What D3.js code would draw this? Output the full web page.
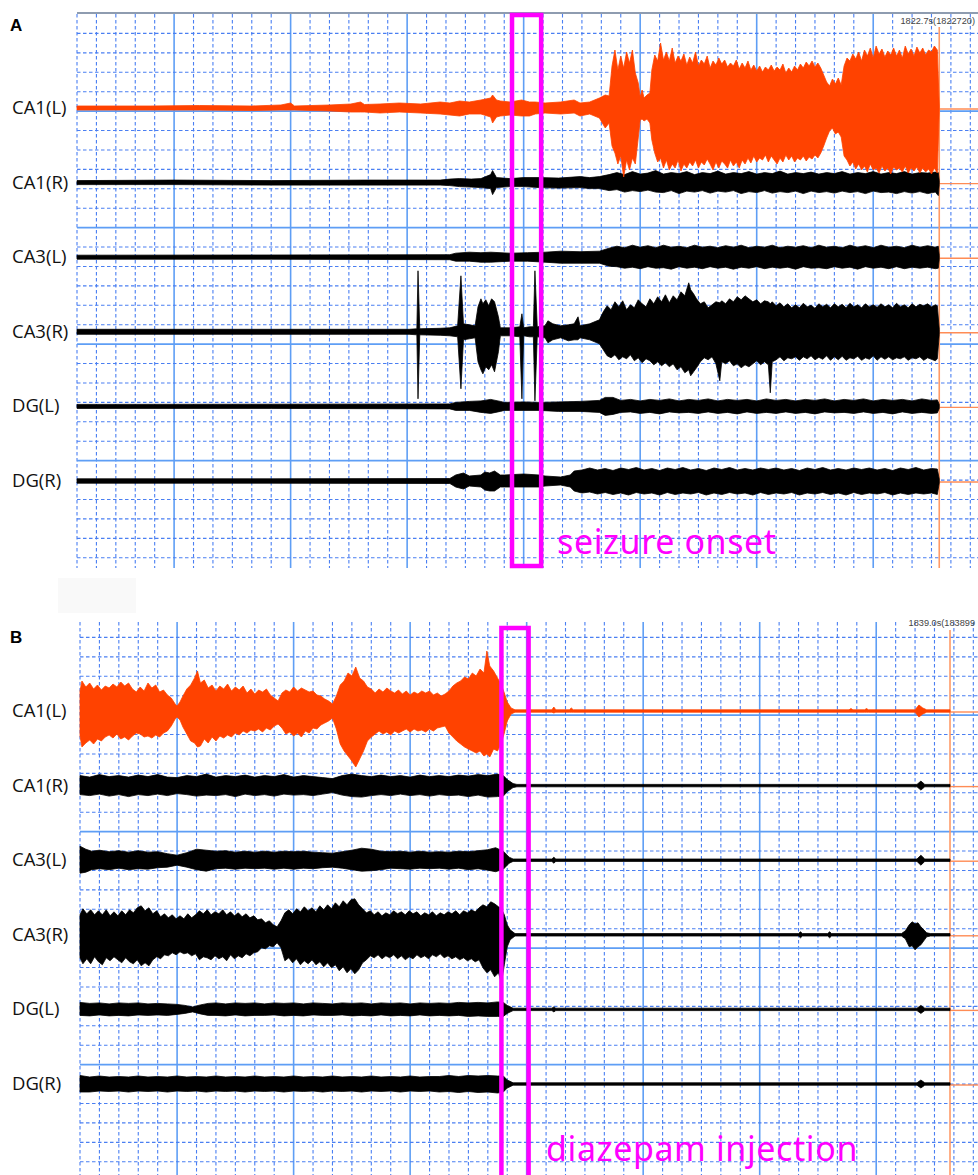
<!DOCTYPE html>
<html><head><meta charset="utf-8">
<script src="https://cdn.jsdelivr.net/npm/d3@7"></script>
<style>body{margin:0;background:#fff}svg{display:block}</style>
</head><body>
<svg id="chart" width="978" height="1175"></svg>
<script>
// ---------- data ----------
const channels = ["CA1(L)", "CA1(R)", "CA3(L)", "CA3(R)", "DG(L)", "DG(R)"];
const panelLabels = ["A", "B"];
const timeLabels = ["1822.7s(1822720)", "1839.0s(183899"];
const eventLabels = ["seizure onset", "diazepam injection"];
// event windows (s from panel start) and trace end times
const eventA = [22.4, 23.9];
const eventB = [21.7, 23.1];
const endA = 44.4, endB = 44.8;

// envelopes: [time s, upward deflection µV, downward deflection µV]
const A_CA1L = [[0,20,20],[3.8,20,20],[6.3,25,20],[9,20,25],[10.5,30,20],[11,50,20],[11.2,20,20],[13,30,30],[14.1,40,40],[14.6,60,40],[14.8,35,40],[15.6,40,50],[16.6,50,40],[17.7,40,50],[18.7,60,60],[19.2,50,70],[19.7,70,80],[20.2,60,60],[20.8,80,60],[21.3,100,90],[21.4,130,150],[21.6,80,90],[21.8,70,80],[22.3,60,70],[22.9,80,80],[23.3,60,80],[23.6,60,60],[24.1,50,50],[24.9,60,60],[25.6,80,50],[25.9,50,80],[26.4,60,60],[26.9,100,100],[27.2,130,200],[27.4,120,150],
 [27.55,420,380],[27.7,580,450],[27.85,380,560],[28.0,520,480],[28.15,400,690],[28.3,560,520],[28.45,450,620],[28.6,580,500],[28.75,350,560],[28.9,250,300],[29.0,110,120],[29.1,180,110],[29.2,100,130],[29.35,130,110],[29.5,150,150],[29.6,380,320],[29.75,530,450],[29.9,470,540],[30.05,650,500],[30.2,480,600],[30.35,560,520],[30.5,470,620],[30.65,600,560],[30.8,450,600],[30.95,520,520],[31.1,470,630],[31.25,540,560],[31.4,430,600],[31.55,510,540],[31.7,450,580],[31.85,560,520],[32.0,420,600],[32.15,480,540],[32.3,440,570],[32.45,520,510],[32.6,400,560],[32.75,470,620],[32.9,430,540],[33.05,500,600],[33.2,440,530],[33.35,480,560],[33.5,410,600],[33.65,450,520],[33.8,420,580],[33.95,480,540],[34.1,390,600],[34.25,450,520],[34.4,400,560],[34.55,470,500],[34.7,380,550],[34.85,430,480],[35.0,370,540],[35.15,420,500],[35.3,360,520],[35.45,410,470],[35.6,380,540],[35.75,430,480],[35.9,370,520],[36.05,410,560],[36.2,380,500],[36.35,440,540],[36.5,350,470],[36.65,400,520],[36.8,360,480],[36.95,420,540],[37.1,380,500],[37.25,440,520],[37.4,400,480],[37.55,460,530],[37.7,420,490],[37.85,470,510],[38.0,410,470],[38.15,450,500],[38.3,400,450],[38.45,330,380],[38.6,260,300],[38.75,220,230],[38.9,290,200],[39.05,240,260],[39.2,300,240],[39.35,230,290],[39.5,420,480],[39.65,500,520],[39.8,470,580],[39.95,540,540],[40.1,490,610],[40.25,560,560],[40.4,470,620],[40.55,580,580],[40.7,520,640],[40.85,600,560],[41.0,500,620],[41.15,620,600],[41.3,540,650],[41.45,590,580],[41.6,510,630],[41.75,570,600],[41.9,530,660],[42.05,600,590],[42.2,520,620],[42.35,580,600],[42.5,500,640],[42.65,620,580],[42.8,540,650],[42.95,590,600],[43.1,520,630],[43.25,610,590],[43.4,550,650],[43.55,600,600],[43.7,530,640],[43.85,580,610],[44.0,560,660],[44.15,620,600],[44.3,580,650],[44.4,20,20]];
const A_CA1R = [[0,20,20],[5,25,20],[10,20,25],[15,25,25],[18.7,25,25],[19.2,35,30],[19.7,40,40],[20.3,35,45],[20.8,40,50],[21.3,80,60],[21.4,120,120],[21.6,50,50],[22.3,40,40],[23.0,50,40],[23.8,50,50],[24.8,45,55],[25.9,60,50],[26.4,50,60],[26.9,60,60],[27.4,80,80],[27.8,100,70],[28.2,80,95],[28.6,110,80],[29.0,85,90],[29.4,95,75],[29.8,120,95],[30.2,85,100],[30.6,100,80],[31.0,90,110],[31.4,110,85],[31.8,80,95],[32.2,100,80],[32.6,90,105],[33.0,115,85],[33.4,85,95],[33.8,100,80],[34.2,90,110],[34.6,110,90],[35.0,85,100],[35.4,100,80],[35.8,90,105],[36.2,115,90],[36.6,85,100],[37.0,100,85],[37.4,90,110],[37.8,105,85],[38.2,85,100],[38.6,100,90],[39.0,90,105],[39.4,110,85],[39.8,85,100],[40.2,100,90],[40.6,90,110],[41.0,110,85],[41.4,85,100],[41.8,100,95],[42.2,90,110],[42.6,110,90],[43.0,85,105],[43.4,100,90],[43.8,95,110],[44.2,105,95],[44.35,100,130],[44.4,20,20]];
const A_CA3L = [[0,20,20],[10,22,20],[19.2,25,25],[19.5,40,40],[20.2,50,40],[20.8,45,50],[21.3,50,50],[22.3,40,40],[23.2,45,40],[24.1,50,50],[24.9,60,60],[25.9,55,60],[26.9,60,60],[27.4,90,90],[27.8,110,95],[28.2,95,110],[28.6,120,100],[29.0,100,115],[29.4,115,95],[29.8,95,110],[30.2,120,105],[30.6,100,120],[31.0,110,95],[31.4,95,110],[31.8,120,100],[32.2,100,115],[32.6,110,95],[33.0,95,110],[33.4,115,100],[33.8,100,120],[34.2,120,100],[34.6,95,110],[35.0,110,95],[35.4,100,115],[35.8,120,100],[36.2,95,110],[36.6,110,100],[37.0,100,120],[37.4,115,95],[37.8,95,110],[38.2,120,105],[38.6,100,115],[39.0,110,95],[39.4,95,110],[39.8,120,100],[40.2,100,120],[40.6,115,95],[41.0,95,110],[41.4,120,100],[41.8,100,115],[42.2,110,95],[42.6,95,115],[43.0,120,100],[43.4,100,110],[43.8,115,100],[44.2,100,115],[44.35,110,110],[44.4,20,20]];
const A_CA3R = [[0,25,25],[17.1,25,25],[17.5,30,30],[17.56,610,670],[17.65,30,30],[18.7,35,35],[19.2,40,40],[19.6,60,50],[19.77,560,570],[19.9,80,80],[20.2,70,70],[20.5,60,60],[20.65,250,300],[20.8,330,380],[20.9,280,420],[21.05,320,350],[21.2,260,380],[21.35,330,330],[21.5,300,400],[21.7,150,200],[21.8,40,40],[22.3,40,40],[22.8,50,50],[22.91,180,670],[23.0,40,40],[23.3,50,50],[23.5,50,50],[23.58,610,690],[23.7,50,50],[24.1,60,60],[24.25,110,110],[24.5,80,80],[24.9,60,60],[25.3,70,90],[25.6,80,80],[25.8,150,80],[25.9,60,60],[26.4,80,80],[26.9,120,120],
 [27.1,200,180],[27.3,260,240],[27.5,220,260],[27.7,300,230],[27.9,250,280],[28.1,310,250],[28.3,220,270],[28.5,270,230],[28.7,240,290],[28.9,320,260],[29.1,280,310],[29.3,250,270],[29.5,330,290],[29.7,280,330],[29.9,350,300],[30.1,300,340],[30.3,370,310],[30.5,290,350],[30.7,360,320],[30.9,320,380],[31.1,400,350],[31.3,360,410],[31.5,490,380],[31.6,420,440],[31.75,380,400],[31.9,330,360],[32.1,280,300],[32.3,300,260],[32.5,240,280],[32.7,270,250],[32.9,300,320],[33.1,290,490],[33.2,310,300],[33.4,280,320],[33.6,330,290],[33.8,300,340],[34.0,350,320],[34.2,320,360],[34.4,360,330],[34.6,330,350],[34.8,300,320],[35.0,320,290],[35.2,280,330],[35.4,310,300],[35.6,300,330],[35.7,280,610],[35.8,300,300],[36.0,260,280],[36.2,290,250],[36.4,250,290],[36.6,280,260],[36.8,240,270],[37.0,270,250],[37.2,240,285],[37.4,285,250],[37.6,250,270],[37.8,265,240],[38.0,235,280],[38.2,280,255],[38.4,250,275],[38.6,275,240],[38.8,240,285],[39.0,280,250],[39.2,250,280],[39.4,275,245],[39.6,240,285],[39.8,285,260],[40.0,250,270],[40.2,270,245],[40.4,240,285],[40.6,280,260],[40.8,250,275],[41.0,270,240],[41.2,245,285],[41.4,280,250],[41.6,250,275],[41.8,270,250],[42.0,240,280],[42.2,285,260],[42.4,250,270],[42.6,270,250],[42.8,240,285],[43.0,280,260],[43.2,250,270],[43.4,275,250],[43.6,260,285],[43.8,280,260],[44.0,250,275],[44.2,270,290],[44.3,260,270],[44.4,25,25]];
const A_DGL = [[0,20,20],[10,22,20],[19.2,25,25],[19.5,40,40],[20.2,50,40],[20.8,55,60],[21.3,70,70],[21.8,50,50],[22.0,40,40],[23.0,45,40],[23.8,40,40],[24.8,45,50],[25.9,50,50],[26.9,60,60],[27.2,90,90],[27.6,90,80],[28.0,60,60],[28.5,70,55],[29.0,55,70],[29.5,70,60],[30.0,60,75],[30.5,75,55],[31.0,55,65],[31.5,70,60],[32.0,60,70],[32.5,75,55],[33.0,55,70],[33.5,70,60],[34.0,60,75],[34.5,70,55],[35.0,55,70],[35.5,75,60],[36.0,60,70],[36.5,70,55],[37.0,55,70],[37.5,70,60],[38.0,60,75],[38.5,75,55],[39.0,55,65],[39.5,70,60],[40.0,60,70],[40.5,75,55],[41.0,55,70],[41.5,70,60],[42.0,60,75],[42.5,70,55],[43.0,55,70],[43.5,75,60],[44.0,60,70],[44.3,65,65],[44.4,20,20]];
const A_DGR = [[0,22,22],[10,22,22],[19.2,25,25],[19.5,60,60],[19.9,80,80],[20.2,50,50],[20.8,60,60],[21.0,90,90],[21.25,80,100],[21.5,100,100],[21.8,60,60],[22.0,60,60],[23.0,70,60],[23.8,60,60],[24.1,50,50],[24.9,40,40],[25.4,60,60],[25.6,100,100],[26.0,110,120],[26.4,130,110],[26.8,110,130],[27.2,125,115],[27.6,105,135],[28.0,130,120],[28.4,115,140],[28.8,135,115],[29.2,110,130],[29.6,125,120],[30.0,105,140],[30.4,130,115],[30.8,115,135],[31.2,135,120],[31.6,110,130],[32.0,125,115],[32.4,105,140],[32.8,130,120],[33.2,115,135],[33.6,135,115],[34.0,110,130],[34.4,125,120],[34.8,110,140],[35.2,130,115],[35.6,115,135],[36.0,130,120],[36.4,110,130],[36.8,125,115],[37.2,105,140],[37.6,130,120],[38.0,115,130],[38.4,135,115],[38.8,110,135],[39.2,125,120],[39.6,110,140],[40.0,130,115],[40.4,115,135],[40.8,130,120],[41.2,110,130],[41.6,125,115],[42.0,105,140],[42.4,130,120],[42.8,115,135],[43.2,135,120],[43.6,110,130],[44.0,125,120],[44.3,120,135],[44.4,20,20]];

const B_CA1L = [[0,200,250],[0.1,300,360],[0.3,240,320],[0.5,280,290],[0.7,220,330],[0.9,260,280],[1.1,210,300],[1.3,250,260],[1.5,230,240],[1.7,270,270],[1.9,240,230],[2.1,290,280],[2.3,250,260],[2.5,280,290],[2.7,220,250],[2.9,190,220],[3.1,240,230],[3.3,200,260],[3.5,280,250],[3.7,230,270],[3.9,260,240],[4.1,190,260],[4.3,210,220],[4.5,160,200],[4.7,130,150],[4.9,70,80],[5.0,50,60],[5.15,90,90],[5.3,150,160],[5.5,220,230],[5.7,260,300],[5.9,330,320],[6.05,400,360],[6.2,280,350],[6.4,310,280],[6.6,230,320],[6.8,260,260],[7.0,200,300],[7.2,250,250],[7.4,220,270],[7.6,270,240],[7.8,200,260],[8.0,240,220],[8.2,210,240],[8.4,250,200],[8.6,180,220],[8.8,220,190],[9.0,170,200],[9.2,210,180],[9.4,190,210],[9.6,220,170],[9.8,160,190],[10.0,130,150],[10.2,100,130],[10.4,180,170],[10.6,210,230],[10.8,190,210],[11.0,240,250],[11.2,200,220],[11.4,230,260],[11.6,210,200],[11.8,190,220],[12.0,200,170],[12.2,160,180],[12.4,150,140],[12.6,120,120],[12.8,100,100],[13.0,70,70],[13.2,150,180],[13.4,260,330],[13.6,300,400],[13.8,380,450],[14.0,350,500],[14.2,440,560],[14.4,330,480],[14.6,300,400],[14.8,240,300],[15.0,220,260],[15.2,180,230],[15.4,220,200],[15.6,190,230],[15.8,230,210],[16.0,200,240],[16.2,180,200],[16.4,210,220],[16.6,170,200],[16.8,200,180],[17.0,160,210],[17.2,190,180],[17.4,170,200],[17.6,200,190],[17.8,180,210],[18.0,200,180],[18.2,160,200],[18.4,180,170],[18.6,150,160],[18.8,170,150],[19.0,200,220],[19.2,250,260],[19.4,280,300],[19.6,300,330],[19.8,340,360],[20.0,320,380],[20.2,380,400],[20.4,350,420],[20.6,420,400],[20.8,380,450],[20.95,600,430],[21.1,450,460],[21.3,400,380],[21.5,330,400],[21.7,260,320],[21.85,180,220],[22.0,90,100],[22.2,30,30],[22.4,12,12],[24.3,12,12],[24.4,40,20],[24.5,12,12],[25.2,12,12],[25.3,30,12],[25.4,12,12],[39.6,12,12],[39.7,25,12],[39.8,12,12],[40.4,12,12],[40.5,25,12],[40.6,12,12],[43.0,12,12],[43.2,60,60],[43.4,30,30],[43.6,12,12],[44.8,12,12]];
const B_CA1R = [[0,100,90],[0.5,85,100],[1.0,110,85],[1.5,90,105],[2.0,100,90],[2.5,85,110],[3.0,105,90],[3.5,90,100],[4.0,110,85],[4.5,85,100],[5.0,80,80],[5.5,100,90],[6.0,90,105],[6.5,115,95],[7.0,85,100],[7.5,100,90],[8.0,90,110],[8.5,105,85],[9.0,85,100],[9.5,100,90],[10.0,90,105],[10.5,110,85],[11.0,85,95],[11.5,100,90],[12.0,90,100],[12.5,80,85],[13.0,70,70],[13.5,100,95],[14.0,115,110],[14.5,100,115],[15.0,90,100],[15.5,105,90],[16.0,90,100],[16.5,100,85],[17.0,85,100],[17.5,105,90],[18.0,90,105],[18.5,100,90],[19.0,90,100],[19.5,105,95],[20.0,95,110],[20.5,110,95],[21.0,100,115],[21.5,115,110],[21.8,100,105],[22.0,60,60],[22.3,20,20],[22.5,12,12],[43.1,12,12],[43.3,45,45],[43.5,12,12],[44.8,12,12]];
const B_CA3L = [[0,140,130],[0.3,110,120],[0.6,90,95],[1.0,100,85],[1.5,85,95],[2.0,95,80],[2.5,80,95],[3.0,95,85],[3.5,80,90],[4.0,85,75],[4.5,65,70],[5.0,50,50],[5.5,75,70],[6.0,110,95],[6.5,100,110],[7.0,90,85],[7.5,95,80],[8.0,80,90],[8.5,90,80],[9.0,80,85],[9.5,90,80],[10.0,80,90],[10.5,90,80],[11.0,85,90],[11.5,90,80],[12.0,80,85],[12.5,75,75],[13.0,70,70],[13.5,85,80],[14.0,100,95],[14.5,120,110],[15.0,110,105],[15.5,90,95],[16.0,85,80],[16.5,90,85],[17.0,80,90],[17.5,90,80],[18.0,80,85],[18.5,85,80],[19.0,80,90],[19.5,90,80],[20.0,85,95],[20.5,95,85],[21.0,105,100],[21.4,125,115],[21.8,90,90],[22.1,30,30],[22.3,12,12],[24.3,12,12],[24.4,30,30],[24.5,12,12],[43.1,12,12],[43.3,50,50],[43.5,12,12],[44.8,12,12]];
const B_CA3R = [[0,200,230],[0.15,260,290],[0.35,210,240],[0.55,250,290],[0.75,200,220],[0.95,240,270],[1.15,200,300],[1.35,250,230],[1.55,190,260],[1.75,230,220],[1.95,190,250],[2.15,240,280],[2.35,200,230],[2.55,250,270],[2.75,220,290],[2.95,270,250],[3.15,290,310],[3.35,240,280],[3.55,270,310],[3.75,210,250],[3.95,240,220],[4.15,180,240],[4.35,210,200],[4.55,170,210],[4.75,200,180],[4.95,160,200],[5.15,190,170],[5.35,160,190],[5.55,210,180],[5.75,170,210],[5.95,200,190],[6.15,240,250],[6.35,210,220],[6.55,250,230],[6.75,200,250],[6.95,230,210],[7.15,210,240],[7.35,250,220],[7.55,200,260],[7.75,230,200],[7.95,190,240],[8.15,220,210],[8.35,180,230],[8.55,210,190],[8.75,170,210],[8.95,190,180],[9.15,150,170],[9.35,160,130],[9.55,120,140],[9.75,140,110],[9.95,100,120],[10.15,80,80],[10.35,140,130],[10.55,220,260],[10.75,250,230],[10.95,210,280],[11.15,260,240],[11.35,230,300],[11.55,280,260],[11.75,240,290],[11.95,270,250],[12.15,230,300],[12.35,290,270],[12.55,250,320],[12.75,300,280],[12.95,260,330],[13.15,320,300],[13.35,280,360],[13.55,340,320],[13.75,300,380],[13.95,350,340],[14.15,360,390],[14.35,300,350],[14.55,260,280],[14.75,220,250],[14.95,240,210],[15.15,200,230],[15.35,230,200],[15.55,190,240],[15.75,220,210],[15.95,200,230],[16.15,240,200],[16.35,210,240],[16.55,230,210],[16.75,200,250],[16.95,240,220],[17.15,210,240],[17.35,230,200],[17.55,190,230],[17.75,220,210],[17.95,200,240],[18.15,230,200],[18.35,190,220],[18.55,220,190],[18.75,200,230],[18.95,230,210],[19.15,210,240],[19.35,240,220],[19.55,200,250],[19.75,240,230],[19.95,220,260],[20.15,250,240],[20.35,230,270],[20.55,270,250],[20.75,300,330],[20.95,280,380],[21.15,330,350],[21.35,310,420],[21.55,280,380],[21.7,260,480],[21.85,200,300],[22.0,100,120],[22.15,50,50],[22.4,12,12],[37.0,12,12],[37.1,30,30],[37.2,12,12],[38.5,12,12],[38.6,30,30],[38.7,12,12],[42.3,12,12],[42.5,40,40],[42.7,100,120],[42.85,130,110],[43.0,110,150],[43.15,120,120],[43.3,80,100],[43.6,20,20],[43.8,12,12],[44.8,12,12]];
const B_DGL = [[0,70,60],[0.5,60,65],[1.0,65,55],[1.5,55,65],[2.0,65,60],[2.5,60,65],[3.0,65,55],[3.5,55,60],[4.0,60,55],[4.5,55,60],[5.0,50,50],[5.4,40,40],[5.8,25,25],[6.2,45,45],[6.6,60,60],[7.0,65,60],[7.5,55,65],[8.0,65,55],[8.5,60,65],[9.0,65,60],[9.5,55,60],[10.0,65,55],[10.5,60,65],[11.0,65,60],[11.5,55,65],[12.0,65,55],[12.5,60,60],[13.0,55,60],[13.5,65,55],[14.0,60,65],[14.5,65,60],[15.0,55,65],[15.5,65,55],[16.0,60,65],[16.5,65,60],[17.0,55,65],[17.5,65,55],[18.0,60,65],[18.5,65,60],[19.0,60,65],[19.5,70,60],[20.0,65,70],[20.5,70,65],[21.0,65,70],[21.5,75,70],[21.8,70,70],[22.0,40,40],[22.3,12,12],[24.3,12,12],[24.4,25,25],[24.5,12,12],[43.1,12,12],[43.3,40,40],[43.5,12,12],[44.8,12,12]];
const B_DGR = [[0,85,80],[0.5,70,80],[1.0,80,70],[1.5,70,75],[2.0,75,70],[2.5,70,80],[3.0,80,70],[3.5,70,75],[4.0,75,70],[4.5,70,80],[5.0,80,70],[5.5,70,75],[6.0,75,70],[6.5,70,80],[7.0,80,70],[7.5,70,75],[8.0,75,70],[8.5,70,80],[9.0,80,70],[9.5,70,75],[10.0,75,70],[10.5,70,80],[11.0,80,70],[11.5,70,75],[12.0,75,70],[12.5,70,80],[13.0,80,70],[13.5,70,75],[14.0,75,70],[14.5,70,80],[15.0,80,70],[15.5,70,75],[16.0,75,70],[16.5,70,80],[17.0,80,70],[17.5,70,75],[18.0,75,70],[18.5,75,80],[19.0,85,75],[19.5,75,85],[20.0,85,75],[20.5,80,85],[21.0,85,80],[21.5,80,90],[21.8,80,80],[22.0,40,40],[22.3,12,12],[43.1,12,12],[43.3,40,40],[43.5,12,12],[44.8,12,12]];

const seriesA = [A_CA1L, A_CA1R, A_CA3L, A_CA3R, A_DGL, A_DGR];
const seriesB = [B_CA1L, B_CA1R, B_CA3L, B_CA3R, B_DGL, B_DGR];

// ---------- drawing ----------
const svg = d3.select("#chart");
const W = 978;
const DIV = 19.42;              // px per grid division (1 s)
const ORANGE = "#ff4200", MAG = "#ff00ff";
const amp = d3.scaleLinear().domain([0, 1000]).range([0, 100]);

const panels = [
  {label: panelLabels[0], x0: 77, y0: 14, top: 14, bottom: 568, chan: [108, 481], series: seriesA, end: endA,
   event: eventA, evTop: 15, evBottom: 566, evText: eventLabels[0], evTextY: 554, evTextX: 557,
   tLabel: timeLabels[0], tLabelY: 24, cursorTop: 27, letterY: 31, border: true},
  {label: panelLabels[1], x0: 80, y0: 618, top: 622, bottom: 1175, chan: [711, 1084], series: seriesB, end: endB,
   event: eventB, evTop: 628, evBottom: 1185, evText: eventLabels[1], evTextY: 1161, evTextX: 546,
   tLabel: timeLabels[1], tLabelY: 626, cursorTop: 630, letterY: 643, border: false}
];

svg.append("rect").attr("x", 58).attr("y", 578).attr("width", 78).attr("height", 35).attr("fill", "#f9f9f9");

panels.forEach(p => {
  const g = svg.append("g");
  const x = d3.scaleLinear().domain([0, 1]).range([p.x0, p.x0 + DIV]);
  const yg = d3.scaleLinear().domain([0, 1]).range([p.y0, p.y0 + DIV]);
  const nCols = Math.floor((W - p.x0) / DIV);
  const nRows = Math.floor((p.bottom - p.y0) / DIV);
  d3.range(0, nCols + 1).forEach(i => {
    const solid = i % 6 === 5;
    g.append("line").attr("x1", x(i)).attr("x2", x(i)).attr("y1", p.top).attr("y2", p.bottom)
      .attr("stroke", solid ? "#5e9ef5" : "#4a7ff2").attr("stroke-width", solid ? 1.6 : 1.1)
      .attr("stroke-dasharray", solid ? null : "3.5,2.5");
  });
  d3.range(1, nRows + 1).forEach(i => {
    const solid = i % 6 === 5;
    g.append("line").attr("x1", p.x0).attr("x2", W).attr("y1", yg(i)).attr("y2", yg(i))
      .attr("stroke", solid ? "#5e9ef5" : "#4a7ff2").attr("stroke-width", solid ? 1.6 : 1.1)
      .attr("stroke-dasharray", solid ? null : "3.5,2.5");
  });
  if (p.border) {
    g.append("line").attr("x1", p.x0).attr("x2", W).attr("y1", p.y0 - 1).attr("y2", p.y0 - 1)
      .attr("stroke", "#8e9cb0").attr("stroke-width", 2);
  }
  const cx = x(p.end);
  g.append("line").attr("x1", cx).attr("x2", cx).attr("y1", p.cursorTop).attr("y2", p.bottom)
    .attr("stroke", "#ff9a66").attr("stroke-width", 1.6);

  const chanY = d3.scaleLinear().domain([0, channels.length - 1]).range(p.chan);
  const order = [1, 2, 3, 4, 5, 0];
  order.forEach(ci => {
    const base = chanY(ci);
    const data = p.series[ci];
    const col = ci === 0 ? ORANGE : "#000";
    g.append("line").attr("x1", cx).attr("x2", W).attr("y1", base + 1).attr("y2", base + 1)
      .attr("stroke", "#ff8c55").attr("stroke-width", 1.4);
    const area = d3.area().x(d => x(d[0])).y1(d => base - amp(d[1])).y0(d => base + amp(d[2]));
    g.append("path").attr("d", area(data)).attr("fill", col).attr("stroke", col)
      .attr("stroke-width", 0.8).attr("stroke-linejoin", "bevel");
  });

  channels.forEach((c, ci) => {
    svg.append("text").attr("x", 12).attr("y", chanY(ci) + 6).text(c)
      .attr("font-family", "'Open Sans', 'Noto Sans', sans-serif").attr("font-size", 18.5).attr("fill", "#111");
  });
  svg.append("text").attr("x", 10).attr("y", p.letterY).text(p.label)
    .attr("font-family", "Liberation Sans, Arial, sans-serif").attr("font-weight", "bold").attr("font-size", 17).attr("fill", "#000");
  svg.append("text").attr("x", 975).attr("y", p.tLabelY).attr("text-anchor", "end").text(p.tLabel)
    .attr("font-family", "Liberation Sans, Arial, sans-serif").attr("font-size", 9.2).attr("fill", "#444");
  const ex0 = x(p.event[0]), ex1 = x(p.event[1]);
  svg.append("rect").attr("x", ex0).attr("y", p.evTop).attr("width", ex1 - ex0).attr("height", p.evBottom - p.evTop)
    .attr("fill", "none").attr("stroke", MAG).attr("stroke-width", 4.5);
  svg.append("text").attr("x", p.evTextX).attr("y", p.evTextY).text(p.evText)
    .attr("font-family", "'Noto Sans', 'Open Sans', sans-serif").attr("font-size", 34)
    .attr("letter-spacing", 0.6).attr("fill", MAG);
});
</script>
</body></html>
